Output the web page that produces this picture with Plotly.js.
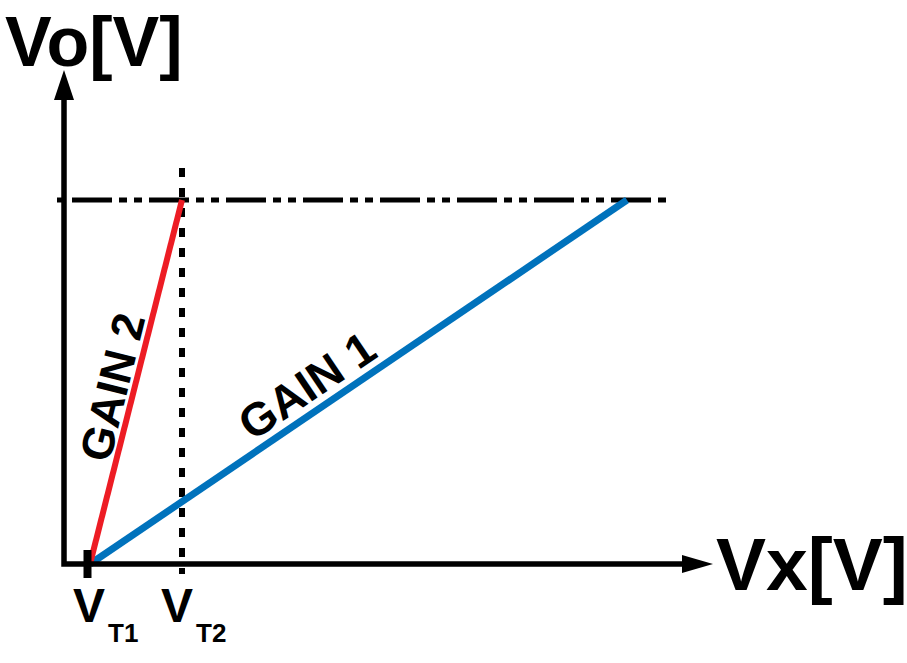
<!DOCTYPE html>
<html>
<head>
<meta charset="utf-8">
<script src="https://cdn.plot.ly/plotly-3.0.1.min.js"></script>
<style>
  body { margin: 0; background: #fff; }
  #chart { width: 907px; height: 663px; }
</style>
</head>
<body>
<div id="chart"></div>
<script>
// threshold voltages and saturation level (arbitrary units)
var vt1 = 0.52;
var vt2 = 2.36;
var vsat = 7.28;

// gain 1 (blue) and gain 2 (red) transfer lines
var gain1X = [vt1, 11.26];
var gain1Y = [0, vsat];
var gain2X = [vt1, vt2];
var gain2Y = [0, vsat];

// saturation guide (dash-dot) and VT2 guide (dotted)
var satX = [-0.14, 12.04];
var satY = [vsat, vsat];
var vt2GuideX = [vt2, vt2];
var vt2GuideY = [7.92, -0.2];

var font = 'Liberation Sans, Arial, sans-serif';

var traces = [
  {
    x: satX, y: satY, mode: 'lines', hoverinfo: 'skip',
    line: { color: '#000', width: 5, dash: '8px,7px,40px,7px,8px,7px' }
  },
  {
    x: vt2GuideX, y: vt2GuideY, mode: 'lines', hoverinfo: 'skip',
    line: { color: '#000', width: 6, dash: '9px,11px' }
  },
  {
    x: gain1X, y: gain1Y, mode: 'lines', name: 'GAIN 1', hoverinfo: 'skip',
    line: { color: 'rgb(0,114,188)', width: 7 }
  },
  {
    x: gain2X, y: gain2Y, mode: 'lines', name: 'GAIN 2', hoverinfo: 'skip',
    line: { color: 'rgb(237,28,36)', width: 6 }
  }
];

function label(text, x, y, size, angle) {
  return {
    text: text, x: x, y: y, xref: 'x', yref: 'y',
    showarrow: false, xanchor: 'center', yanchor: 'middle',
    textangle: angle || 0,
    font: { family: font, size: size, color: '#000', weight: 'bold' }
  };
}

var annotations = [
  Object.assign(label('Vo[V]', -1.23, 10.45, 70), { xanchor: 'left' }),
  Object.assign(label('Vx[V]', 13.0, 0.01, 75), { xanchor: 'left' }),
  label('V', 0.5, -0.83, 48),
  label('T1', 1.17, -1.37, 26),
  label('V', 2.25, -0.83, 48),
  label('T2', 2.94, -1.38, 26),
  label('GAIN 2', 0.96, 3.54, 45, -76),
  label('GAIN 1', 4.84, 3.57, 46, -34)
];

var shapes = [
  // axes
  {
    type: 'path', xref: 'x', yref: 'y',
    path: 'M 0,9.28 L 0,0 L 12.36,0',
    line: { color: '#000', width: 5.5 }
  },
  {
    type: 'path', xref: 'x', yref: 'y',
    path: 'M -0.2,9.28 L 0,9.88 L 0.2,9.28 Z',
    fillcolor: '#000', line: { width: 0 }
  },
  {
    type: 'path', xref: 'x', yref: 'y',
    path: 'M 12.36,0.18 L 12.98,0 L 12.36,-0.18 Z',
    fillcolor: '#000', line: { width: 0 }
  },
  // tick at VT1
  {
    type: 'line', xref: 'x', yref: 'y',
    x0: vt1 - 0.05, x1: vt1 - 0.05, y0: 0.28, y1: -0.28,
    line: { color: '#000', width: 8 }
  }
];

var layout = {
  width: 907,
  height: 663,
  margin: { l: 0, r: 0, t: 0, b: 0 },
  paper_bgcolor: '#fff',
  plot_bgcolor: '#fff',
  showlegend: false,
  xaxis: { range: [-1.28, 16.86], visible: false, fixedrange: true },
  yaxis: { range: [-1.98, 11.28], visible: false, fixedrange: true },
  shapes: shapes,
  annotations: annotations
};

Plotly.newPlot('chart', traces, layout, { displayModeBar: false, staticPlot: true });
</script>
</body>
</html>
